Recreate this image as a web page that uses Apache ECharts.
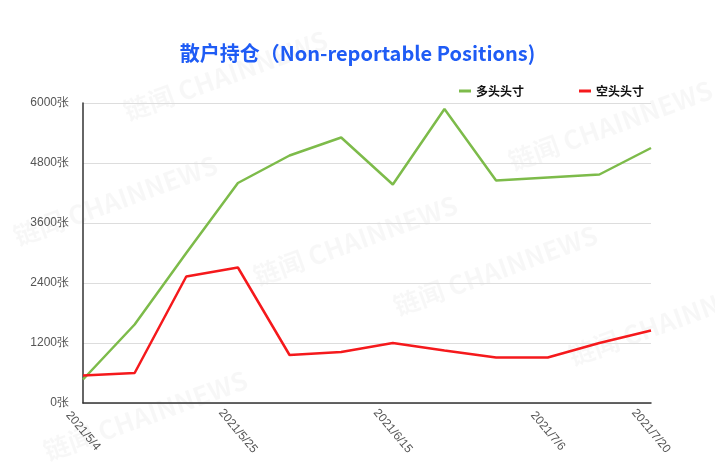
<!DOCTYPE html>
<html>
<head>
<meta charset="utf-8">
<script src="https://cdn.jsdelivr.net/npm/echarts@6/dist/echarts.min.js"></script>
<style>html,body{margin:0;padding:0;background:#fff;}#c{width:715px;height:475px;}</style>
</head>
<body>
<div id="c"></div>
<script>
const categories = ['2021/5/4','2021/5/11','2021/5/18','2021/5/25','2021/6/1','2021/6/8','2021/6/15','2021/6/22','2021/6/29','2021/7/6','2021/7/13','2021/7/20'];
const longPositions = [470, 1570, 3000, 4400, 4950, 5310, 4370, 5880, 4450, 4510, 4570, 5100];
const shortPositions = [550, 600, 2530, 2710, 960, 1020, 1200, 1050, 910, 910, 1200, 1450];
const yTicks = [0, 1200, 2400, 3600, 4800, 6000];

const chart = echarts.init(document.getElementById('c'));
const wm = (x, y) => ({
  type: 'text', x: x, y: y, rotation: Math.PI * 20 / 180, silent: true, z: -1,
  style: { text: '链闻 CHAINNEWS', fill: 'rgba(0,0,0,0.03)', font: 'bold 26px "Noto Sans CJK SC", sans-serif' }
});
chart.setOption({
  backgroundColor: '#fff',
  title: {
    text: '散户持仓（Non-reportable Positions)',
    left: 'center', top: 38,
    textStyle: { color: '#1f5cf5', fontSize: 20, fontWeight: 'bold', fontFamily: '"Noto Sans CJK SC", sans-serif' }
  },
  legend: {
    top: 80, right: 66, itemGap: 55, itemWidth: 12, itemHeight: 3, icon: 'rect',
    textStyle: { color: '#111', fontSize: 12, fontWeight: 'bold', fontFamily: '"Noto Sans CJK SC", sans-serif' },
    data: ['多头头寸', '空头头寸']
  },
  graphic: [wm(10, 225), wm(250, 265), wm(390, 295), wm(505, 150), wm(565, 345), wm(40, 440), wm(120, 100)],
  grid: { left: 83, right: 64, top: 103, bottom: 72 },
  xAxis: {
    type: 'category', data: categories, boundaryGap: false,
    axisLine: { lineStyle: { color: '#333', width: 1.5 } },
    axisTick: { show: false },
    axisLabel: {
      rotate: -50, color: '#555', fontSize: 12, margin: 28,
      align: 'center', verticalAlign: 'middle',
      interval: (i) => i % 3 === 0 || i === categories.length - 1
    }
  },
  yAxis: {
    type: 'value', min: yTicks[0], max: yTicks[yTicks.length - 1], interval: 1200,
    axisLine: { show: true, lineStyle: { color: '#333', width: 1.5 } },
    axisTick: { show: false },
    splitLine: { lineStyle: { color: '#ddd' } },
    axisLabel: { color: '#555', fontSize: 12, margin: 14, formatter: (v) => String(v) + '张' }
  },
  series: [
    { name: '多头头寸', type: 'line', data: longPositions, symbol: 'none', lineStyle: { color: '#7dbb4a', width: 2.5 }, itemStyle: { color: '#7dbb4a' } },
    { name: '空头头寸', type: 'line', data: shortPositions, symbol: 'none', lineStyle: { color: '#f5191c', width: 2.5 }, itemStyle: { color: '#f5191c' } }
  ]
});
</script>
</body>
</html>
